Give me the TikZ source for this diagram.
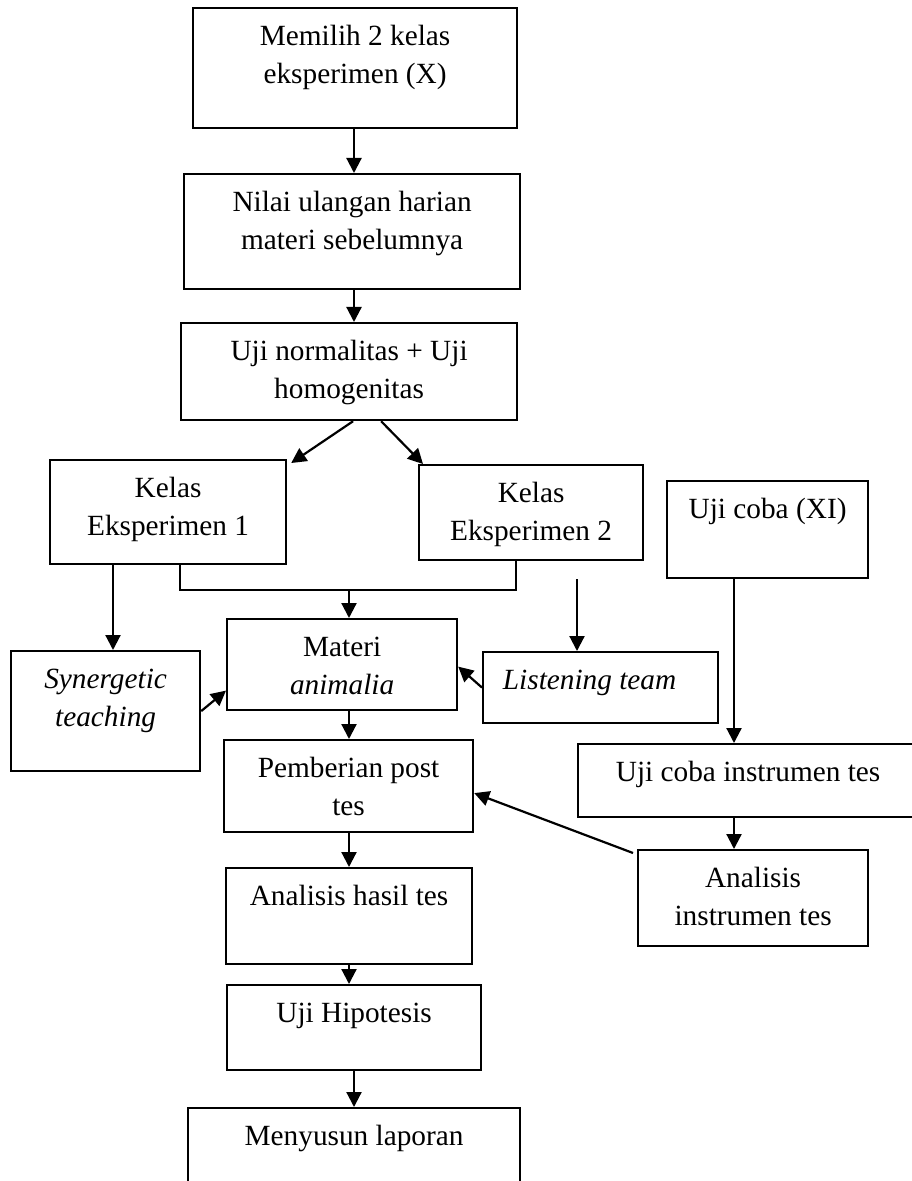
\documentclass[tikz,border=0pt]{standalone}
\usepackage{fontspec}
\setmainfont{Liberation Serif}
\usetikzlibrary{arrows.meta}
\newdimen\satuan
\satuan=0.5pt
\newcommand{\isikotak}[3]{\parbox[c][#2\satuan][t]{#1\satuan}{\centering\rule{0pt}{37\satuan}#3}}
\begin{document}
\begin{tikzpicture}[x=0.5pt, y=-0.5pt,
	kotak/.style={draw, line width=1.1pt, inner sep=0pt, anchor=north west, font=\fontsize{14.65}{19.25}\selectfont},
	panah/.style={line width=1.1pt, -{Triangle[length=7.5pt,width=7.5pt]}},
	garis/.style={line width=1.1pt}]
					\useasboundingbox (0,0) rectangle (911,1181);
					\node[kotak] (pilih) at (192,7) {\isikotak{324}{120}{Memilih 2 kelas\\eksperimen (X)}};
					\node[kotak] (nilai) at (183,173) {\isikotak{336}{115}{Nilai ulangan harian\\materi sebelumnya}};
					\node[kotak] (uji) at (180,322) {\isikotak{336}{97}{Uji normalitas + Uji\\homogenitas}};
					\node[kotak] (kelas1) at (49,459) {\isikotak{236}{104}{Kelas\\Eksperimen 1}};
					\node[kotak] (kelas2) at (418,464) {\isikotak{224}{95}{Kelas\\Eksperimen 2}};
					\node[kotak] (ujicoba) at (666,480) {\isikotak{201}{97}{Uji coba (XI)}};
					\node[kotak] (synergetic) at (10,650) {\isikotak{189}{120}{\textit{Synergetic}\\\textit{teaching}}};
					\node[kotak] (materi) at (226,618) {\isikotak{230}{91}{Materi\\\textit{animalia}}};
					\node[kotak] (listening) at (482,651) {\isikotak{235}{71}{\textit{Listening team}\hspace*{22\satuan}}};
					\node[kotak] (pemberian) at (223,739) {\isikotak{249}{92}{Pemberian post\\tes}};
					\node[kotak] (instrumen) at (577,743) {\isikotak{340}{73}{Uji coba instrumen tes}};
					\node[kotak] (analinstr) at (637,849) {\isikotak{230}{96}{Analisis\\instrumen tes}};
					\node[kotak] (analhasil) at (225,867) {\isikotak{246}{96}{Analisis hasil tes}};
					\node[kotak] (hipotesis) at (226,984) {\isikotak{254}{85}{Uji Hipotesis}};
					\node[kotak] (laporan) at (187,1107) {\isikotak{332}{110}{Menyusun laporan}};
					\coordinate (a) at (354,0);
					\coordinate (m) at (349,0);
					\coordinate (k1) at (180,590);
					\coordinate (k2) at (516,590);
					\coordinate (s) at (113,0);
					\coordinate (l) at (577,579);
					\coordinate (u) at (734,0);
					\draw [panah] (a |- pilih.south) -- (a |- nilai.north);
					\draw [panah] (a |- nilai.south) -- (a |- uji.north);
					\draw [panah] ([xshift=2pt]uji.south) -- ([xshift=2pt,yshift=-2pt]kelas1.north east);
					\draw [panah] ([xshift=16pt]uji.south) -- ([xshift=2.5pt]kelas2.north west);
					\draw [garis] (k1 |- kelas1.south) -- (k1) -- (k2) -- (k2 |- kelas2.south);
					\draw [panah] (m |- k1) -- (m |- materi.north);
					\draw [panah] (s |- kelas1.south) -- (s |- synergetic.north);
					\draw [panah] (synergetic.east) -- ([yshift=-13pt]materi.west);
					\draw [panah] (listening.west) -- ([yshift=-1pt]materi.east);
					\draw [panah] (l) -- (l |- listening.north);
					\draw [panah] (u |- ujicoba.south) -- (u |- instrumen.north);
					\draw [panah] (u |- instrumen.south) -- (u |- analinstr.north);
					\draw [panah] ([xshift=-2pt,yshift=-2pt]analinstr.north west) -- ([yshift=-3.5pt]pemberian.east);
					\draw [panah] (m |- materi.south) -- (m |- pemberian.north);
					\draw [panah] (m |- pemberian.south) -- (m |- analhasil.north);
					\draw [panah] (m |- analhasil.south) -- (m |- hipotesis.north);
					\draw [panah] (a |- hipotesis.south) -- (a |- laporan.north);
				\end{tikzpicture}
\end{document}
